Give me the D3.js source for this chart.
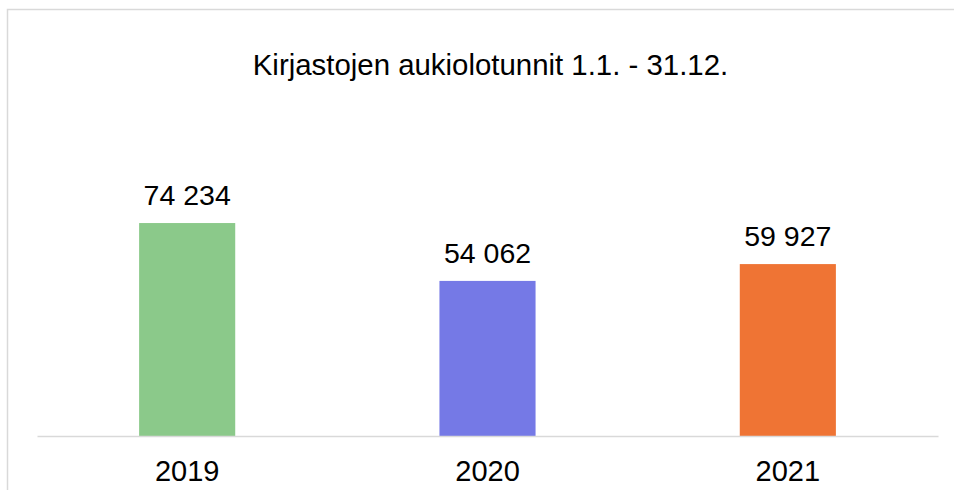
<!DOCTYPE html>
<html>
<head>
<meta charset="utf-8">
<script src="https://cdn.jsdelivr.net/npm/d3@7"></script>
<style>
  html, body { margin: 0; padding: 0; background: #fff; overflow: hidden; }
  #chart { width: 954px; height: 490px; }
</style>
</head>
<body>
<div id="chart"></div>
<script>
// Library opening hours per year
const TITLE = 'Kirjastojen aukiolotunnit 1.1. - 31.12.';
const YEARS = ['2019', '2020', '2021'];
const HOURS = [74234, 54062, 59927];
const COLOURS = ['#8bc98a', '#7579e6', '#ef7434'];

const WIDTH = 954;
const HEIGHT = 490;
const FONT = '"Liberation Sans", Arial, sans-serif';

const svg = d3.select('#chart')
  .append('svg')
  .attr('width', WIDTH)
  .attr('height', HEIGHT);

// chart frame (runs past the right and bottom edges)
svg.append('rect')
  .attr('x', 7.5)
  .attr('y', 9.5)
  .attr('width', 980)
  .attr('height', 520)
  .attr('fill', '#fff')
  .attr('stroke', '#d9d9d9')
  .attr('stroke-width', 1.5);

const x = d3.scaleBand()
  .domain(YEARS)
  .range([37, 938])
  .paddingInner(0.68)
  .paddingOuter(0.34);

const y = d3.scaleLinear()
  .domain([0, 80000])
  .range([436, 206.5]);

const fmt = d3.formatLocale({ decimal: ',', thousands: ' ', grouping: [3], currency: ['', ' €'] }).format(',d');

// title
svg.append('text')
  .attr('x', 490.5)
  .attr('y', 75)
  .attr('text-anchor', 'middle')
  .style('font-family', FONT)
  .style('font-size', '29.4px')
  .style('fill', '#000')
  .text(TITLE);

// bars
svg.selectAll('rect.bar')
  .data(HOURS)
  .join('rect')
  .attr('class', 'bar')
  .attr('x', (d, i) => x(YEARS[i]))
  .attr('y', d => y(d))
  .attr('width', x.bandwidth())
  .attr('height', d => y(0) - y(d))
  .attr('fill', (d, i) => COLOURS[i]);

// value labels
svg.selectAll('text.value')
  .data(HOURS)
  .join('text')
  .attr('class', 'value')
  .attr('x', (d, i) => x(YEARS[i]) + x.bandwidth() / 2)
  .attr('y', d => y(d) - 18)
  .attr('text-anchor', 'middle')
  .style('font-family', FONT)
  .style('font-size', '28.5px')
  .style('fill', '#000')
  .text(d => fmt(d));

// category axis
const axis = svg.append('g')
  .attr('transform', `translate(0,${y(0)})`)
  .call(d3.axisBottom(x).tickSize(0).tickPadding(0));

axis.select('.domain')
  .attr('stroke', '#d9d9d9')
  .attr('stroke-width', 1.5);

axis.selectAll('text')
  .attr('dy', null)
  .attr('y', 45)
  .style('font-family', FONT)
  .style('font-size', '29px')
  .style('fill', '#000');
</script>
</body>
</html>
